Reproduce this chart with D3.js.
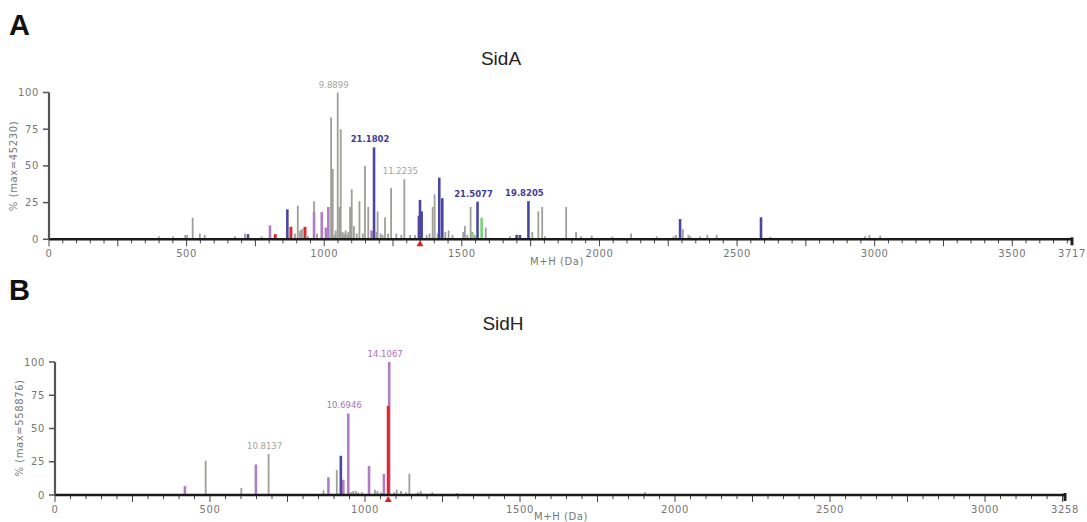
<!DOCTYPE html>
<html><head><meta charset="utf-8">
<script src="https://cdn.jsdelivr.net/npm/d3@7"></script>
<style>body{margin:0;background:#fff}svg{display:block}</style>
</head><body>
<svg id="c" width="1087" height="522"></svg>
<script>
// ---------- Panel A (SidA) ----------
const sidA_mz  = [399,451,495,502,522,548,566,676,712,723,773,803,822,866,879,894,904,912,919,930,941,963,963,974,991,1006,1015,1025,1031,1037,1042,1049,1055,1060,1066,1072,1078,1084,1088,1094,1100,1108,1118,1128,1140,1148,1160,1172,1178,1181,1190,1194,1205,1212,1221,1232,1243,1262,1280,1291,1312,1330,1344,1348,1354,1372,1383,1394,1401,1412,1418,1429,1440,1452,1466,1505,1511,1520,1532,1538,1547,1557,1572,1587,1675,1699,1711,1742,1756,1778,1792,1802,1879,1915,1933,1972,2047,2115,2208,2269,2278,2293,2303,2323,2330,2366,2392,2426,2587,2620,2965,2981,3020];
const sidA_int = [2,2,3,3,14.7,4,3,2,4,3.5,2,9.5,3.5,20.4,8.5,4,23,6,7,8.5,2,26,18.5,4,18.5,8,22,83,48,3,6,100,22,75,5,4,6,3,5,22,34,9,4,26,4,50,22,6,3,62.6,5,19,4,3,15,4,35,4,3,41,3,3,16,26.8,19,3,4,22,30.6,4,42,28,5,6,3,5,9,3,22,5,3,25.6,14.7,8,2,3,3,26,5,19,22,2,22,5,2,2.5,2,4,2,2,3,13.8,7,3,2,2,3,3,15,1.5,2,3,2.5];
const sidA_type= ["g","g","g","g","g","g","g","g","g","b","g","p","r","b","r","g","g","g","g","r","g","g","p","g","p","p","p","g","g","g","g","g","g","g","g","g","g","g","g","g","g","g","g","g","g","g","g","p","g","b","g","g","g","g","g","g","g","g","g","g","g","g","b","b","b","g","g","g","g","g","b","b","g","g","g","g","g","g","g","n","g","b","n","g","g","b","b","b","g","g","g","g","g","g","g","g","g","g","g","g","g","b","g","g","g","g","g","g","b","g","g","g","g"];
const sidA_labelMz   = [1049,1181,1291,1557,1742];
const sidA_labelText = ["9.8899","21.1802","11.2235","21.5077","19.8205"];
const sidA_labelType = ["g","b","g","b","b"];
const sidA_marker = [1348];

// ---------- Panel B (SidH) ----------
const sidH_mz  = [419,486,601,648,689,866,882,909,922,930,946,955,962,970,978,990,1013,1032,1040,1052,1061,1078,1075,1094,1102,1116,1132,1143,1171,1180,1217,1296,1903];
const sidH_int = [6.7,25.8,5.3,23,30.8,3.5,13.3,18.8,29.5,11.5,61.3,2,3,3,2,2,21.8,4,3,2,15.8,100,67,2,4,3,2,16,2,3,2,1.5,2];
const sidH_type= ["p","g","g","p","g","g","p","g","b","p","p","g","g","g","g","g","p","g","g","g","p","p","r","g","g","g","g","g","g","g","g","g","g"];
const sidH_labelMz   = [689,946,1078];
const sidH_labelText = ["10.8137","10.6946","14.1067"];
const sidH_labelType = ["g","p","p"];
const sidH_marker = [1075];

const yTicks = [0,25,50,75,100];
const colors = {g:"#9f9f99", b:"#4a46a3", p:"#b27cc4", r:"#dc2a2a", n:"#72d46e"};
const labelColors = {g:"#a3a39d", b:"#3f3c9a", p:"#a772b8"};
const order = {g:0, n:1, p:2, b:3, r:4};

const svg = d3.select("#c");
const tickFont = "DejaVu Sans, Verdana, sans-serif";

function panel(o){
  const g = svg.append("g");
  const x = d3.scaleLinear().domain([0,o.xmax]).range([o.x0,o.x1]);
  const y = d3.scaleLinear().domain([0,100]).range([o.y0,o.y1]);
  const data = o.mz.map((m,i)=>({m, v:o.int[i], t:o.type[i]}));
  data.sort((a,b)=> order[a.t]-order[b.t]);
  g.selectAll("line.bar").data(data).enter().append("line")
    .attr("x1",d=>x(d.m)).attr("x2",d=>x(d.m))
    .attr("y1",y(0)).attr("y2",d=>y(d.v))
    .attr("stroke",d=>colors[d.t])
    .attr("stroke-width",d=>d.t==="g"?1.8:(d.t==="r"?3:2.6));
  const minor = d3.range(0,o.xmax,50);
  g.selectAll("line.mt").data(minor).enter().append("line")
    .attr("x1",d=>x(d)).attr("x2",d=>x(d))
    .attr("y1",y(0)).attr("y2",d=> d%250===0 ? y(0)+7 : y(0)+4)
    .attr("stroke","#444").attr("stroke-width",1);
  g.append("line").attr("x1",x(o.xmax)).attr("x2",x(o.xmax))
    .attr("y1",y(0)-2).attr("y2",y(0)+6).attr("stroke","#222").attr("stroke-width",3);
  g.append("line").attr("x1",x(0)).attr("x2",x(o.xmax))
    .attr("y1",y(0)).attr("y2",y(0)).attr("stroke","#1a1a1a").attr("stroke-width",2.5);
  const labs = d3.range(0,o.xmax,500).concat([o.xmax]);
  g.selectAll("text.xl").data(labs).enter().append("text")
    .attr("x",d=>x(d)).attr("y",y(0)+18)
    .attr("text-anchor","middle").attr("font-family",tickFont).attr("font-size",10)
    .attr("fill","#777").attr("letter-spacing",0.6).text(d=>d);
  g.append("line").attr("x1",x(0)).attr("x2",x(0)).attr("y1",y(0)).attr("y2",y(100))
    .attr("stroke","#555").attr("stroke-width",2.2);
  g.selectAll("line.yt").data(yTicks).enter().append("line")
    .attr("x1",x(0)-6).attr("x2",x(0)).attr("y1",d=>y(d)).attr("y2",d=>y(d))
    .attr("stroke","#555").attr("stroke-width",1.5);
  g.selectAll("text.yl").data(yTicks).enter().append("text")
    .attr("x",x(0)-10).attr("y",d=>y(d)+3.5).attr("text-anchor","end")
    .attr("font-family",tickFont).attr("font-size",10).attr("fill","#777")
    .attr("letter-spacing",0.6).text(d=>d);
  g.append("text").attr("transform",`translate(${o.ylabX},${o.ylabY}) rotate(-90)`)
    .attr("text-anchor","middle").attr("font-family",tickFont).attr("font-size",10)
    .attr("fill","#777").attr("letter-spacing",0.6).text(o.ylab);
  g.append("text").attr("x",o.xlabX).attr("y",o.xlabY).attr("text-anchor","middle")
    .attr("font-family",tickFont).attr("font-size",10).attr("fill","#777")
    .attr("letter-spacing",0.6).text("M+H (Da)");
  g.selectAll("path.mk").data(o.marker).enter().append("path")
    .attr("d",d=>`M${x(d)},${y(0)+1} L${x(d)-3.5},${y(0)+7} L${x(d)+3.5},${y(0)+7} Z`)
    .attr("fill","#e02020");
  const ld = o.labelMz.map((m,i)=>({m, t:o.labelText[i], c:o.labelType[i], v:o.int[o.mz.indexOf(m)]}));
  g.selectAll("text.pl").data(ld).enter().append("text")
    .attr("x",d=>x(d.m)-4).attr("y",d=>y(d.v)-5)
    .attr("text-anchor","middle").attr("font-family",tickFont).attr("font-size",8.5)
    .attr("fill",d=>labelColors[d.c]).attr("font-weight",d=>d.c==="b"?"bold":"normal")
    .text(d=>d.t);
  g.append("text").attr("x",o.titleX).attr("y",o.titleY).attr("text-anchor","middle")
    .attr("font-family","Liberation Sans, Arial, sans-serif").attr("font-size",19)
    .attr("fill","#222").text(o.title);
  g.append("text").attr("x",9).attr("y",o.letterY)
    .attr("font-family","Liberation Sans, Arial, sans-serif").attr("font-size",29)
    .attr("font-weight","bold").attr("fill","#111").text(o.letter);
}

panel({mz:sidA_mz,int:sidA_int,type:sidA_type,labelMz:sidA_labelMz,labelText:sidA_labelText,labelType:sidA_labelType,marker:sidA_marker,
  xmax:3717,x0:49,x1:1072,y0:239.3,y1:92.5,ylab:"% (max=45230)",ylabX:17,ylabY:166,xlabX:557,xlabY:265,
  title:"SidA",titleX:501,titleY:65,letter:"A",letterY:35});
panel({mz:sidH_mz,int:sidH_int,type:sidH_type,labelMz:sidH_labelMz,labelText:sidH_labelText,labelType:sidH_labelType,marker:sidH_marker,
  xmax:3258,x0:55,x1:1065,y0:495,y1:362,ylab:"% (max=558876)",ylabX:23,ylabY:428,xlabX:561,xlabY:520,
  title:"SidH",titleX:503,titleY:330,letter:"B",letterY:300});
</script>
</body></html>
